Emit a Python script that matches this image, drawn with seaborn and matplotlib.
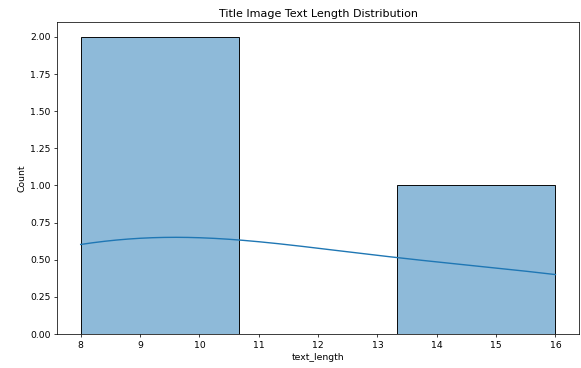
import pandas as pd
import matplotlib
matplotlib.use("Agg")
import matplotlib.pyplot as plt
import seaborn as sns

# text lengths of the title images
text_length = [8, 10, 16]
df = pd.DataFrame({'text_length': text_length})

plt.figure(figsize=(8.7, 5.51), dpi=66.8)
sns.histplot(df['text_length'], kde=True)
plt.title('Title Image Text Length Distribution')
plt.xlabel('text_length')
plt.ylabel('Count')
plt.subplots_adjust(left=0.098, right=0.9966, top=0.940, bottom=0.0924)
plt.savefig('out.png', dpi=66.8)
